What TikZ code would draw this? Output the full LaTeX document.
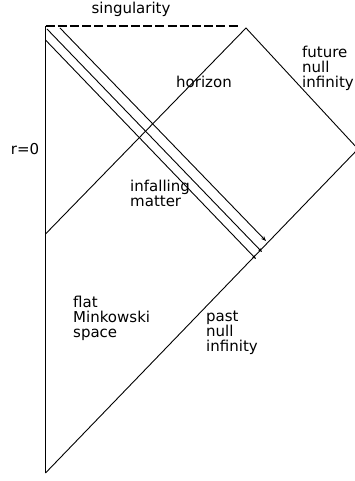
\documentclass[tikz,border=0pt]{standalone}
\usepackage{fontspec}
\setmainfont{DejaVu Sans}
\usepackage{tikz}
\usetikzlibrary{arrows.meta, positioning, calc}

\begin{document}
\begin{tikzpicture}[x=1pt,y=-1pt,
    every node/.style={font=\fontsize{15}{15}\selectfont,inner sep=0pt},
    edge/.style={black,line width=0.9pt},
    lbl/.style={align=left,anchor=west}]
  \useasboundingbox (0,0) rectangle (355,481);
  % corners of the diagram
  \coordinate (bot) at (45.5,473);
  \coordinate (hfoot) at (45.5,234);
  \coordinate (rtop) at (45.5,26);
  \coordinate (peak) at (246,28);
  \coordinate (iright) at (358,149);
  \coordinate (sing) at (240,26);
  % infalling matter
  \coordinate (m1) at (47,29);
  \coordinate (m1end) at (262,252);
  \coordinate (m2) at (60,28);
  \coordinate (m2end) at (266,241);
  \coordinate (m3) at (45.5,40);
  \coordinate (m3end) at (256,259);

  \draw[edge] (bot) -- (rtop);
  \draw[edge] (hfoot) -- (peak) -- (iright) -- (bot);
  \draw[edge,line width=1.7pt,dash pattern=on 9pt off 3.2pt] (rtop) -- (sing);
  \draw[edge,-{Stealth[length=5pt,width=4pt]}] (m2) -- (m2end);
  \draw[edge,-{Stealth[length=4pt,width=3pt]}] (m1) -- (m1end);
  \draw[edge,-{Stealth[length=4pt,width=3pt]}] (m3) -- (m3end);

  \node (singl) at (131,9) {singularity};
  \node (hor) at (204,82) {horizon};
  \node (rzero) at (25,149) {r=0};
  \node[lbl] (fni) at (302,68) {future\\null\\infinity};
  \node[lbl] (inf) at (130,193) {infalling\\matter};
  \node[lbl] (flat) at (73,318) {flat\\Minkowski\\space};
  \node[lbl] (pni) at (206,333) {past\\null\\infinity};
\end{tikzpicture}
\end{document}
